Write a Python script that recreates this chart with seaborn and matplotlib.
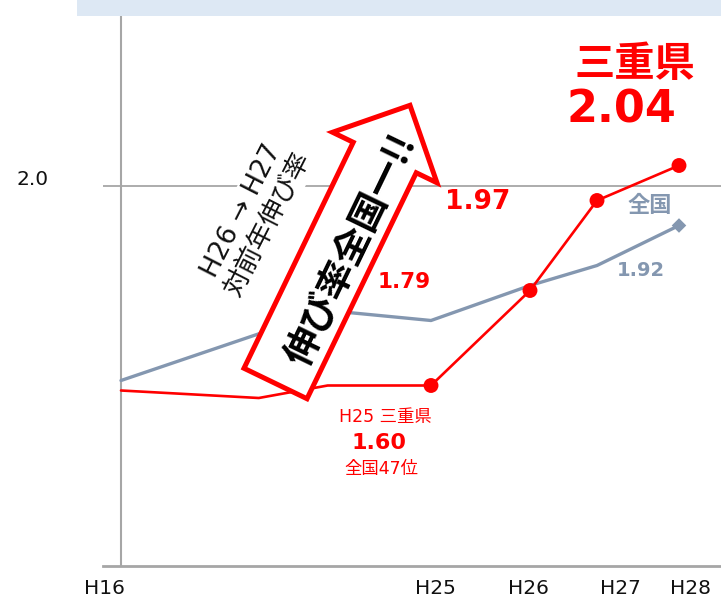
import numpy as np
import pandas as pd
import matplotlib
matplotlib.use("Agg")
import matplotlib.pyplot as plt
import matplotlib.transforms as mtransforms
from matplotlib.patches import Polygon, Rectangle
import seaborn as sns

# Employment rate (%) by fiscal year (Heisei era)
mie_years = [16, 20, 22, 25, 26, 27, 28]
mie_rate = [1.59, 1.575, 1.60, 1.60, 1.79, 1.97, 2.04]
mie_marked_years = [25, 26, 27, 28]
national_years = [16, 22, 25, 26, 27, 28]
national_rate = [1.61, 1.75, 1.73, 1.80, 1.84, 1.92]
tick_years = [16, 25, 26, 27, 28]
tick_labels = ["H16", "H25", "H26", "H27", "H28"]
y_ticks = [2.0]

RED = "#FF0000"
SLATE = "#8497B0"
AXIS_GRAY = "#A6A6A6"

sns.set_theme(style="white")
plt.rcParams["font.family"] = ["DejaVu Sans", "Noto Sans CJK JP"]

W, H = 721, 597
fig = plt.figure(figsize=(W / 100, H / 100), dpi=100)
ax = fig.add_axes([103 / W, 31 / H, 618 / W, 550 / H])

mie = pd.DataFrame({"year": mie_years, "rate": mie_rate})
national = pd.DataFrame({"year": national_years, "rate": national_rate})
mie_marked = mie[mie["year"].isin(mie_marked_years)]

sns.lineplot(data=national, x="year", y="rate", color=SLATE, lw=2.4, ax=ax,
             zorder=3)
sns.scatterplot(data=national.tail(1), x="year", y="rate", color=SLATE,
                marker="D", s=55, edgecolor="none", ax=ax, zorder=4)
sns.lineplot(data=mie, x="year", y="rate", color=RED, lw=1.9, ax=ax, zorder=5)
sns.scatterplot(data=mie_marked, x="year", y="rate", color=RED, s=115,
                edgecolor="none", ax=ax, zorder=6)

# Broken horizontal axis: the early years are compressed
knot_years = [15, 16, 25, 26, 27, 28, 29]
knot_pos = [-34.4, 0, 310, 409, 476, 558, 640]


def fwd(x):
    return np.interp(x, knot_years, knot_pos)


def inv(p):
    return np.interp(p, knot_pos, knot_years)


ax.set_xscale("function", functions=(fwd, inv))
ax.set_xlim(inv(-18), inv(600))
ax.set_ylim(2.0 - 380.5 / 500, 2.0 + 169.5 / 500)

ax.axhline(2.0, color=AXIS_GRAY, lw=1.3, zorder=1)
ax.axvline(16, color=AXIS_GRAY, lw=1.5, zorder=1)
for side in ["left", "right", "top"]:
    ax.spines[side].set_visible(False)
ax.spines["bottom"].set_color(AXIS_GRAY)
ax.spines["bottom"].set_linewidth(2)

ax.set_xticks(tick_years, tick_labels)
ax.set_yticks(y_ticks, [f"{v:.1f}" for v in y_ticks])
ax.tick_params(axis="x", length=0, pad=9, labelsize=14.5, colors="#111111")
ax.tick_params(axis="y", length=0, pad=39, labelsize=14.5, colors="#111111")
ax.set_xlabel("")
ax.set_ylabel("")
ax.grid(False)

# nudge tick labels to their printed spots
x_label_shift = [-17, 4, -2, 23, 12]
for lab, dx in zip(ax.get_xticklabels(), x_label_shift):
    lab.set_transform(lab.get_transform()
                      + mtransforms.ScaledTranslation(dx / 100, 0, fig.dpi_scale_trans))
for lab in ax.get_yticklabels():
    lab.set_transform(lab.get_transform()
                      + mtransforms.ScaledTranslation(0, 8 / 100, fig.dpi_scale_trans))

# pixel-space transform (origin top-left, y downwards)
px = mtransforms.Affine2D().scale(1 / W, -1 / H).translate(0, 1) + fig.transFigure

# header banner
fig.patches.append(Rectangle((77, 0), W - 77, 16, transform=px,
                             facecolor="#DDE8F4", edgecolor="none", zorder=2))

# big outlined arrow
tail = np.array([275.5, 383.5])
ang = np.deg2rad(64.2)
d = np.array([np.cos(ang), -np.sin(ang)])
n = np.array([np.sin(ang), np.cos(ang)])
L, hw, bw, hl = 309, 35, 58, 58
local = [(0, -hw), (L - hl, -hw), (L - hl, -bw), (L, 0), (L - hl, bw),
         (L - hl, hw), (0, hw)]
verts = [tail + u * d + v * n for u, v in local]
fig.patches.append(Polygon(verts, closed=True, transform=px, facecolor="white",
                           edgecolor=RED, lw=3.6, joinstyle="miter", zorder=3))
fig.text(352, 250, "伸び率全国一!!", transform=px, rotation=64.2,
         rotation_mode="anchor", ha="center", va="center", fontsize=27,
         fontweight="bold", color="black", zorder=4,
         family=["Noto Sans CJK JP", "DejaVu Sans"])

fig.text(255, 218, "H26 → H27\n対前年伸び率", transform=px, rotation=63,
         rotation_mode="anchor", ha="center", va="center", ma="center",
         fontsize=19, color="#111111", linespacing=1.15, zorder=4,
         bbox=dict(facecolor="white", edgecolor="none", pad=2))

mie_val = dict(zip(mie_years, mie_rate))
nat_val = dict(zip(national_years, national_rate))

fig.text(635, 64, "三重県", transform=px, ha="center", va="center",
         fontsize=29, fontweight="bold", color=RED,
         family=["Noto Sans CJK JP", "DejaVu Sans"])
fig.text(621, 110, f"{mie_val[28]:.2f}", transform=px, ha="center",
         va="center", fontsize=32, fontweight="bold", color=RED)
fig.text(478, 202, f"{mie_val[27]:.2f}", transform=px, ha="center",
         va="center", fontsize=19, fontweight="bold", color=RED)
fig.text(404, 282, f"{mie_val[26]:.2f}", transform=px, ha="center",
         va="center", fontsize=15.5, fontweight="bold", color=RED)
fig.text(385, 417, "H25 三重県", transform=px, ha="center", va="center",
         fontsize=12.5, color=RED)
fig.text(379, 443, f"{mie_val[25]:.2f}", transform=px, ha="center",
         va="center", fontsize=16, fontweight="bold", color=RED)
fig.text(381, 469, "全国47位", transform=px, ha="center", va="center",
         fontsize=12.5, color=RED)
fig.text(650, 205, "全国", transform=px, ha="center", va="center",
         fontsize=16, fontweight="bold", color=SLATE,
         family=["Noto Sans CJK JP", "DejaVu Sans"])
fig.text(641, 271, f"{nat_val[28]:.2f}", transform=px, ha="center",
         va="center", fontsize=14, fontweight="bold", color=SLATE)

fig.savefig("out.png", dpi=100)
